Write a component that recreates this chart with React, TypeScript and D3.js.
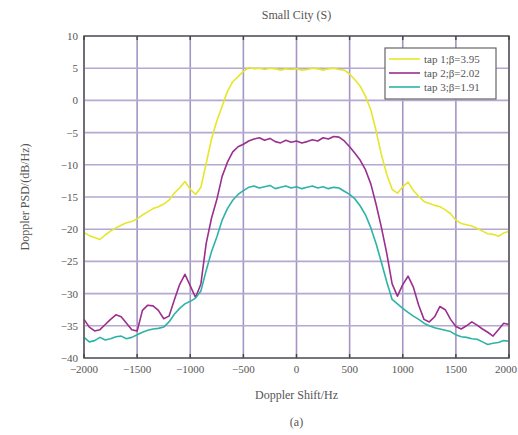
import React from "react";
import * as d3 from "d3";

const freqs: number[] = d3.range(-2000, 2001, 50);

const tap1: number[] = [
  -20.5, -21.0, -21.3, -21.6, -20.9, -20.3, -19.8, -19.4, -19.0, -18.8,
  -18.4, -17.8, -17.3, -16.8, -16.5, -16.1, -15.5, -14.4, -13.6, -12.6,
  -13.8, -14.6, -13.5, -9.8, -6.0, -3.2, -0.9, 1.4, 2.9, 3.7,
  4.5, 5.1, 4.9, 5.0, 4.8, 5.0, 4.9, 4.7, 4.9, 4.8,
  4.9, 4.7, 4.8, 5.0, 4.9, 4.7, 4.9, 5.0, 4.8, 4.7,
  4.1, 3.2, 2.2, 0.6, -1.5, -4.8, -8.5, -11.5, -13.8, -14.4,
  -13.4, -12.7, -14.0, -14.9, -15.7, -16.0, -16.3, -16.5, -17.0, -17.6,
  -18.6, -19.1, -19.3, -19.5, -19.9, -20.3, -20.7, -20.8, -21.1, -20.6,
  -20.3,
];

const tap2: number[] = [
  -34.0, -35.2, -35.8, -35.6, -34.8, -34.0, -33.3, -33.6, -34.6, -35.6,
  -35.8, -32.6, -31.8, -31.9, -32.6, -33.9, -33.5, -31.0, -28.6, -27.0,
  -28.8, -30.6, -28.5, -22.2, -18.3, -15.4, -11.8, -9.6, -8.0, -7.2,
  -6.8, -6.3, -6.0, -5.8, -6.2, -5.9, -6.4, -6.6, -6.2, -6.5,
  -6.3, -6.6, -6.4, -6.1, -6.3, -5.8, -6.0, -5.6, -5.7, -6.3,
  -7.2, -8.2, -9.3, -10.8, -13.0, -16.2, -19.8, -23.8, -28.5, -30.4,
  -28.6, -27.3, -29.0, -31.8, -34.0, -34.4, -33.6, -32.0, -32.5, -34.0,
  -35.1, -35.5, -35.0, -34.4, -34.9, -35.5, -36.0, -36.6, -35.6, -34.6,
  -34.8,
];

const tap3: number[] = [
  -36.8, -37.5, -37.3, -36.8, -37.2, -37.0, -36.7, -36.6, -37.0, -36.8,
  -36.4, -36.0, -35.7, -35.5, -35.4, -35.2, -34.4, -33.2, -32.3, -31.6,
  -31.2, -30.7, -29.6, -26.4, -23.5, -21.2, -18.6, -16.8, -15.5, -14.6,
  -14.0, -13.5, -13.3, -13.6, -13.4, -13.2, -13.7, -13.5, -13.3, -13.6,
  -13.4, -13.7, -13.5, -13.3, -13.6, -13.4, -13.7, -13.5, -13.6, -14.1,
  -14.6, -15.3, -16.4, -17.8, -19.8, -22.3, -25.2, -28.2, -30.9, -31.6,
  -32.3, -32.9, -33.5, -34.0, -34.6, -35.0, -35.3, -35.5, -35.7, -35.9,
  -36.4, -36.7, -36.8, -37.0, -37.1, -37.5, -37.9, -37.7, -37.6, -37.3,
  -37.4,
];

const seriesNames: string[] = ["tap 1;β=3.95", "tap 2;β=2.02", "tap 3;β=1.91"];
const seriesColors: string[] = ["#e6e62a", "#9a2f8e", "#2db3a6"];
const xTicks: number[] = [-2000, -1500, -1000, -500, 0, 500, 1000, 1500, 2000];
const yTicks: number[] = [10, 5, 0, -5, -10, -15, -20, -25, -30, -35, -40];

const W = 518;
const H = 435;
const left = 84;
const right = 509;
const top = 36;
const bottom = 358;

export default function App() {
  const x = d3.scaleLinear().domain([-2000, 2000]).range([left, right]);
  const y = d3.scaleLinear().domain([-40, 10]).range([bottom, top]);
  const series = [tap1, tap2, tap3];
  const line = d3
    .line<number>()
    .x((_, i) => x(freqs[i]))
    .y((d) => y(d));
  const font = "'Liberation Serif', 'DejaVu Serif', serif";
  const cx = (left + right) / 2;
  const fmt = (t: number) => (t < 0 ? "\u2212" + Math.abs(t) : String(t));
  return (
    <svg
      width={W}
      height={H}
      style={{ position: "absolute", left: 0, top: 0, background: "#fff" }}
      fontFamily={font}
    >
      <rect x={0} y={0} width={W} height={H} fill="#fff" />
      {xTicks.map((t) => (
        <line key={"gx" + t} x1={x(t)} x2={x(t)} y1={top} y2={bottom} stroke="#a395c4" strokeWidth={1.6} />
      ))}
      {yTicks.map((t) => (
        <line key={"gy" + t} x1={left} x2={right} y1={y(t)} y2={y(t)} stroke="#b5a8d2" strokeWidth={1.6} />
      ))}
      {series.map((s, i) => (
        <path key={"s" + i} d={line(s) || ""} fill="none" stroke={seriesColors[i]} strokeWidth={1.6} strokeLinejoin="round" />
      ))}
      <rect x={left} y={top} width={right - left} height={bottom - top} fill="none" stroke="#555" strokeWidth={1.4} />
      {xTicks.map((t) => (
        <g key={"tk" + t}>
          <line x1={x(t)} x2={x(t)} y1={bottom} y2={bottom - 4} stroke="#444" strokeWidth={1.4} />
          <line x1={x(t)} x2={x(t)} y1={top} y2={top + 4} stroke="#444" strokeWidth={1.4} />
        </g>
      ))}
      {xTicks.map((t, i) => (
        <text
          key={"xl" + t}
          x={i === xTicks.length - 1 ? W - 1 : x(t)}
          y={bottom + 15}
          textAnchor={i === xTicks.length - 1 ? "end" : "middle"}
          fontSize={11}
          fill="#555"
        >
          {fmt(t)}
        </text>
      ))}
      {yTicks.map((t) => (
        <text key={"yl" + t} x={left - 6} y={y(t) + 4} textAnchor="end" fontSize={11} fill="#555">
          {fmt(t)}
        </text>
      ))}
      <text x={cx} y={19} textAnchor="middle" fontSize={12} fill="#555">
        Small City (S)
      </text>
      <text x={cx} y={399} textAnchor="middle" fontSize={12} fill="#555">
        Doppler Shift/Hz
      </text>
      <text x={cx} y={426} textAnchor="middle" fontSize={12} fill="#555">
        (a)
      </text>
      <text
        transform={`translate(29, ${(top + bottom) / 2}) rotate(-90)`}
        textAnchor="middle"
        fontSize={12}
        fill="#555"
      >
        Doppler PSD/(dB/Hz)
      </text>
      <rect x={385} y={48} width={111} height={51} fill="#fff" stroke="#666" strokeWidth={1.2} />
      {seriesNames.map((n, i) => (
        <g key={"lg" + i}>
          <line x1={389} x2={420} y1={59 + i * 14} y2={59 + i * 14} stroke={seriesColors[i]} strokeWidth={1.6} />
          <text x={424} y={63 + i * 14} fontSize={11} fill="#555">
            {n}
          </text>
        </g>
      ))}
    </svg>
  );
}
